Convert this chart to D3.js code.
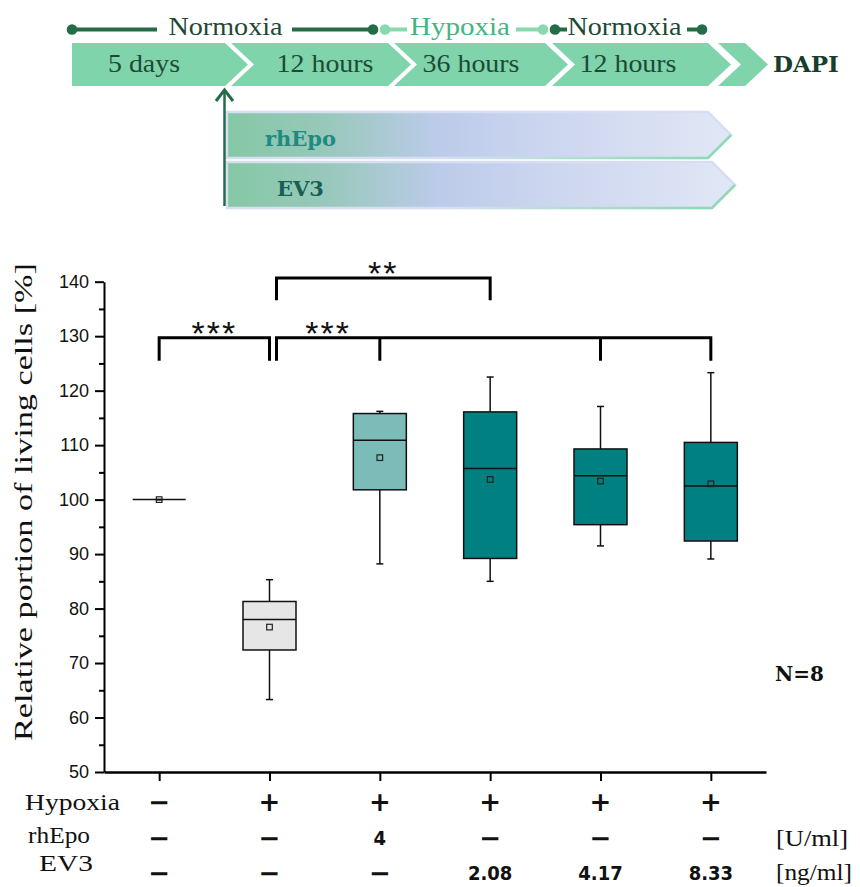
<!DOCTYPE html>
<html>
<head>
<meta charset="utf-8">
<script src="https://cdn.jsdelivr.net/npm/d3@7"></script>
<style>
  body { margin: 0; background: #fff; }
  svg { display: block; }
</style>
</head>
<body>
<svg id="fig" width="860" height="887"></svg>
<script>
// ---- data ----
var groups = ["ctrl", "hyp", "rhEpo4", "ev208", "ev417", "ev833"];
var whiskerLow  = [100, 63.3,  88.2,  85.0,  91.5,  89.1];
var q1          = [100, 72.4, 101.8,  89.2,  95.4,  92.4];
var medians     = [100, 78.0, 110.9, 105.7, 104.4, 102.5];
var q3          = [100, 81.3, 115.8, 116.1, 109.3, 110.5];
var whiskerHigh = [100, 85.3, 116.2, 122.5, 117.1, 123.3];
var means       = [100, 76.6, 107.7, 103.7, 103.4, 102.9];
var boxColors = ["#ffffff", "#e6e6e6", "#7bbcb9", "#008080", "#008080", "#008080"];

var yTicks = [50, 60, 70, 80, 90, 100, 110, 120, 130, 140];
var yMinor = [55, 65, 75, 85, 95, 105, 115, 125, 135];

var rowLabels = ["Hypoxia", "rhEpo", "EV3"];
var rowUnits = ["", "[U/ml]", "[ng/ml]"];
var hypoxiaRow = ["\u2212", "+", "+", "+", "+", "+"];
var rhEpoRow   = ["\u2212", "\u2212", "4", "\u2212", "\u2212", "\u2212"];
var ev3Row     = ["\u2212", "\u2212", "\u2212", "2.08", "4.17", "8.33"];

// significance brackets: from group -> list of groups
var sigLabels = ["***", "***", "**"];
var sigFrom = [0, 1, 1];
var sigTo = [[1], [2, 4, 5], [3]];
var sigLevel = [0, 0, 1];

var stages = ["5 days", "12 hours", "36 hours", "12 hours", ""];
var phases = ["Normoxia", "Hypoxia", "Normoxia"];
var treatments = ["rhEpo", "EV3"];

// ---- setup ----
var svg = d3.select("#fig");
var dark = "#246b47";
var chevFill = "#7fd4ab";
var serif = "'Liberation Serif', 'Times New Roman', serif";
var serifBold = "'DejaVu Serif', serif";

// serif text helper (length forced to what the figure shows)
function serifText(g, str, xx, yy, size, len, fill, anchor) {
  var t = g.append("text")
    .attr("x", xx).attr("y", yy)
    .attr("text-anchor", anchor || "start")
    .style("font-family", serif).style("font-size", size + "px")
    .attr("fill", fill || "#111")
    .text(str);
  if (len) t.attr("textLength", len).attr("lengthAdjust", "spacingAndGlyphs");
  return t;
}

// ================= protocol diagram =================
var cTop = 43, cBot = 86, cMid = (cTop + cBot) / 2, dep = 23;
var stageLayout = [
  { l: 72, r: 225, notch: false, tx: 144, len: 72 },
  { l: 231, r: 388, notch: true, tx: 325, len: 97 },
  { l: 394, r: 545, notch: true, tx: 471, len: 97 },
  { l: 552, r: 708, notch: true, tx: 628, len: 97 },
  { l: 718, r: 745, notch: true, tx: 0, len: 0 }
];
var diag = svg.append("g").attr("class", "protocol");

stageLayout.forEach(function(s, i) {
  var p = d3.path();
  p.moveTo(s.l, cTop);
  p.lineTo(s.r, cTop);
  p.lineTo(s.r + dep, cMid);
  p.lineTo(s.r, cBot);
  p.lineTo(s.l, cBot);
  if (s.notch) p.lineTo(s.l + dep, cMid);
  p.closePath();
  diag.append("path").attr("d", p.toString()).attr("fill", chevFill);
  if (stages[i]) serifText(diag, stages[i], s.tx, 72, 25, s.len, "#1d4a36", "middle");
});

diag.append("text")
  .attr("x", 773).attr("y", 72)
  .style("font-family", serifBold).style("font-size", "23px").style("font-weight", "bold")
  .attr("fill", "#173d2c")
  .text("DAPI");

// timeline of oxygen phases
var light = "#8ad8b0";
var lineY = 29.5;
var phaseLayout = [
  { tx: 225.5, len: 114, col: dark, tcol: "#1d4a36", segs: [[72, 157], [292, 373]], dots: [72, 373] },
  { tx: 460, len: 100, col: light, tcol: "#45b57f", segs: [[385, 407], [516, 543]], dots: [385, 543] },
  { tx: 624.5, len: 114, col: dark, tcol: "#1d4a36", segs: [[555, 567], [687, 702]], dots: [555, 702] }
];
phaseLayout.forEach(function(ph, i) {
  ph.segs.forEach(function(sg) {
    diag.append("line")
      .attr("x1", sg[0]).attr("x2", sg[1]).attr("y1", lineY).attr("y2", lineY)
      .attr("stroke", ph.col).attr("stroke-width", 4);
  });
  ph.dots.forEach(function(dx) {
    diag.append("circle").attr("cx", dx).attr("cy", lineY).attr("r", 5.3).attr("fill", ph.col);
  });
  serifText(diag, phases[i], ph.tx, 35, 25, ph.len, ph.tcol, "middle");
});

// treatment bars
var defs = svg.append("defs");
var grad = defs.append("linearGradient").attr("id", "treatGrad")
  .attr("x1", 0).attr("x2", 1).attr("y1", 0).attr("y2", 0);
[[0, "#85c8a5"], [0.2, "#98c8bb"], [0.42, "#bccbea"], [0.62, "#cbd5ef"], [1, "#e1e7f5"]]
  .forEach(function(s) { grad.append("stop").attr("offset", s[0]).attr("stop-color", s[1]); });
var edgeGrad = defs.append("linearGradient").attr("id", "edgeGrad")
  .attr("gradientUnits", "userSpaceOnUse").attr("x1", 450).attr("x2", 700).attr("y1", 0).attr("y2", 0);
edgeGrad.append("stop").attr("offset", 0).attr("stop-color", "#8fd9b4").attr("stop-opacity", 0);
edgeGrad.append("stop").attr("offset", 1).attr("stop-color", "#8fd9b4").attr("stop-opacity", 1);

var barLayout = [
  { t: 112, b: 158, l: 227, r: 708, tx: 265, ty: 146, col: "#1f8a80" },
  { t: 162, b: 208, l: 227, r: 712, tx: 277, ty: 196, col: "#175f55" }
];
barLayout.forEach(function(bl, i) {
  var m = (bl.t + bl.b) / 2;
  var p = d3.path();
  p.moveTo(bl.l, bl.t); p.lineTo(bl.r, bl.t); p.lineTo(bl.r + dep, m);
  p.lineTo(bl.r, bl.b); p.lineTo(bl.l, bl.b); p.closePath();
  diag.append("path").attr("d", p.toString())
    .attr("fill", "url(#treatGrad)")
    .attr("stroke", "#d6def2").attr("stroke-width", 2.5);
  diag.append("path")
    .attr("d", "M450," + bl.b + "L" + bl.r + "," + bl.b + "L" + (bl.r + dep) + "," + m)
    .attr("fill", "none").attr("stroke", "url(#edgeGrad)").attr("stroke-width", 2.5);
  diag.append("text")
    .attr("x", bl.tx).attr("y", bl.ty)
    .style("font-family", serifBold).style("font-size", "21px").style("font-weight", "bold")
    .attr("fill", bl.col)
    .text(treatments[i]);
});

// start arrow
diag.append("line").attr("x1", 224.5).attr("x2", 224.5).attr("y1", 206).attr("y2", 91)
  .attr("stroke", dark).attr("stroke-width", 2.5);
diag.append("polyline").attr("points", "216,101 224.5,90 233,101")
  .attr("fill", "none").attr("stroke", dark).attr("stroke-width", 3);

// ================= box plot =================
var x = d3.scalePoint().domain(groups).range([104, 766]).padding(0.5);
var y = d3.scaleLinear().domain([50, 140]).range([772, 281.7]);
var boxW = 53, capW = 7;

// y axis
var yAxisG = svg.append("g").attr("transform", "translate(104,0)")
  .call(d3.axisLeft(y).tickValues(yTicks).tickSize(9).tickSizeOuter(0).tickPadding(6));
svg.append("g").attr("transform", "translate(104,0)")
  .call(d3.axisLeft(y).tickValues(yMinor).tickSize(5).tickFormat(""))
  .call(function(g) { g.select(".domain").remove(); });
svg.selectAll(".tick line").attr("stroke", "#000").attr("stroke-width", 2);
yAxisG.select(".domain").attr("stroke-width", 2);
yAxisG.selectAll(".tick text")
  .style("font-family", "'Liberation Sans', Arial, sans-serif")
  .style("font-size", "18px").attr("fill", "#111");

// x axis
var xAxisG = svg.append("g").attr("transform", "translate(0,772)")
  .call(d3.axisBottom(x).tickSize(9).tickSizeOuter(0).tickFormat(""));
xAxisG.select(".domain").attr("stroke-width", 2.5);
xAxisG.selectAll(".tick line").attr("stroke-width", 2);

// y label
serifText(svg, "Relative portion of living cells [%]", 0, 0, 26, 478, "#111", "middle")
  .attr("transform", "translate(32,502) rotate(-90)");

// boxes
var boxes = svg.append("g").attr("class", "boxes");
groups.forEach(function(g, i) {
  var cx = x(g);
  var gb = boxes.append("g");
  gb.append("line").attr("x1", cx).attr("x2", cx)
    .attr("y1", y(whiskerLow[i])).attr("y2", y(whiskerHigh[i]))
    .attr("stroke", "#111").attr("stroke-width", 1.5);
  [whiskerLow[i], whiskerHigh[i]].forEach(function(v) {
    gb.append("line").attr("x1", cx - capW / 2).attr("x2", cx + capW / 2)
      .attr("y1", y(v)).attr("y2", y(v))
      .attr("stroke", "#111").attr("stroke-width", 1.5);
  });
  gb.append("rect")
    .attr("x", cx - boxW / 2).attr("width", boxW)
    .attr("y", y(q3[i])).attr("height", y(q1[i]) - y(q3[i]))
    .attr("fill", boxColors[i]).attr("stroke", "#111").attr("stroke-width", 1.5);
  gb.append("line").attr("x1", cx - boxW / 2).attr("x2", cx + boxW / 2)
    .attr("y1", y(medians[i])).attr("y2", y(medians[i]))
    .attr("stroke", "#111").attr("stroke-width", 1.5);
  gb.append("rect")
    .attr("x", cx - 2.8).attr("y", y(means[i]) - 2.8)
    .attr("width", 5.6).attr("height", 5.6)
    .attr("fill", "none").attr("stroke", "#222").attr("stroke-width", 1.2);
});

// significance brackets
var levelTop = [129.7, 140.7], levelTip = [125.5, 136.6];
var sig = svg.append("g").attr("class", "sig");
sigLabels.forEach(function(lab, i) {
  var yt = y(levelTop[sigLevel[i]]), yb = y(levelTip[sigLevel[i]]);
  var x0 = x(groups[sigFrom[i]]) + (i > 0 ? 7 : 0);
  var xs = sigTo[i].map(function(j) { return x(groups[j]); });
  var x1 = d3.max(xs);
  var p = d3.path();
  p.moveTo(x0, yb); p.lineTo(x0, yt); p.lineTo(x1, yt); p.lineTo(x1, yb);
  xs.slice(0, -1).forEach(function(xx) { p.moveTo(xx, yt); p.lineTo(xx, yb); });
  sig.append("path").attr("d", p.toString())
    .attr("fill", "none").attr("stroke", "#000").attr("stroke-width", 3);
  sig.append("text")
    .attr("x", (x0 + xs[0]) / 2).attr("y", yt + 7)
    .attr("text-anchor", "middle")
    .style("font-family", "'Liberation Sans', Arial, sans-serif")
    .style("font-size", "34px").style("letter-spacing", "2px")
    .attr("fill", "#111")
    .text(lab);
});

// N label
svg.append("text")
  .attr("x", 775).attr("y", 681)
  .style("font-family", serifBold).style("font-size", "20px").style("font-weight", "bold")
  .attr("fill", "#111")
  .text("N=8");

// ================= condition table =================
var rowY = [802, 838, 873];
var rowLabelX = [25, 28, 39];
var rowLabelY = [810, 843, 871];
var rowLabelLen = [95, 62, 54];
var unitY = [0, 846, 880];
var unitLen = [0, 72, 76];
var rows = [hypoxiaRow, rhEpoRow, ev3Row];
var table = svg.append("g").attr("class", "table");
rows.forEach(function(r, ri) {
  serifText(table, rowLabels[ri], rowLabelX[ri], rowLabelY[ri], 24, rowLabelLen[ri]);
  if (rowUnits[ri]) serifText(table, rowUnits[ri], 776, unitY[ri], 24, unitLen[ri]);
  r.forEach(function(v, gi) {
    var sym = (v === "+" || v === "\u2212");
    table.append("text")
      .attr("x", x(groups[gi])).attr("y", rowY[ri])
      .attr("text-anchor", "middle")
      .attr("dominant-baseline", "central")
      .style("font-family", sym ? "'DejaVu Sans', sans-serif" : "'DejaVu Sans Condensed', 'DejaVu Sans', sans-serif")
      .style("font-size", sym ? "26px" : "20px")
      .style("font-weight", "bold")
      .attr("fill", "#111")
      .text(v);
  });
});
</script>
</body>
</html>
